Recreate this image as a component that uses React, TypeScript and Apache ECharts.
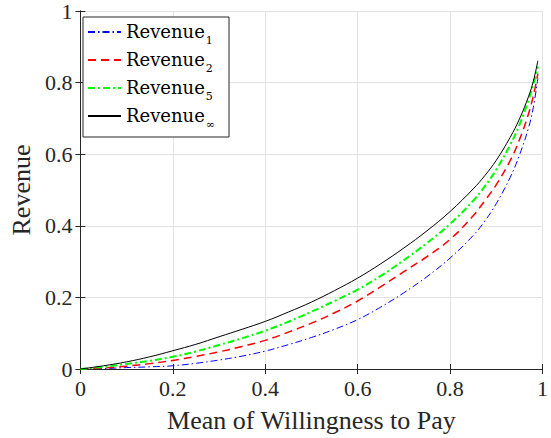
import React, { useEffect, useRef } from "react";
import * as echarts from "echarts";

const X = [0, 0.05, 0.1, 0.15, 0.2, 0.25, 0.3, 0.35, 0.4, 0.45, 0.5, 0.55, 0.6, 0.65, 0.7, 0.75, 0.8, 0.85, 0.875, 0.9, 0.93, 0.95, 0.97, 0.98, 0.99];
const REV_1 = [0, 0.001, 0.004, 0.006, 0.009, 0.016, 0.025, 0.036, 0.05, 0.068, 0.088, 0.111, 0.138, 0.173, 0.213, 0.258, 0.31, 0.373, 0.413, 0.462, 0.535, 0.597, 0.675, 0.73, 0.812];
const REV_2 = [0, 0.003, 0.008, 0.015, 0.024, 0.035, 0.048, 0.063, 0.08, 0.103, 0.128, 0.157, 0.19, 0.23, 0.272, 0.314, 0.362, 0.428, 0.47, 0.515, 0.582, 0.64, 0.714, 0.762, 0.825];
const REV_5 = [0, 0.006, 0.014, 0.023, 0.034, 0.049, 0.067, 0.086, 0.107, 0.132, 0.16, 0.19, 0.222, 0.26, 0.304, 0.352, 0.405, 0.47, 0.51, 0.557, 0.626, 0.682, 0.752, 0.795, 0.845];
const REV_INF = [0, 0.009, 0.02, 0.034, 0.051, 0.069, 0.09, 0.111, 0.133, 0.159, 0.187, 0.219, 0.254, 0.294, 0.338, 0.386, 0.44, 0.503, 0.54, 0.583, 0.647, 0.698, 0.762, 0.803, 0.861];

const SERIES_NAMES = ["Revenue_1", "Revenue_2", "Revenue_5", "Revenue_∞"];
const SUBSCRIPTS = ["1", "2", "5", "∞"];
const X_TITLE = "Mean of Willingness to Pay";
const Y_TITLE = "Revenue";

const SERIF = '"Liberation Serif", "Times New Roman", Times, serif';
const AX = "#262626";

export default function App() {
  const ref = useRef<HTMLDivElement>(null);
  useEffect(() => {
    if (!ref.current) return;
    const chart = echarts.init(ref.current, null, { renderer: "svg" });
    const zip = (ys: number[]) => X.map((x, i) => [x, ys[i]]);
    const fmt = (v: number) => String(Math.round(v * 10) / 10);
    const baseX = {
      type: "value" as const,
      min: 0,
      max: 1,
      interval: 0.2,
    };
    const styles = [
      { data: REV_1, color: "#0000ff", width: 1, type: [7, 3, 1.5, 3] },
      { data: REV_2, color: "#ff0000", width: 1.5, type: [8, 5] },
      { data: REV_5, color: "#00ff00", width: 2, type: [7, 3, 2, 3] },
      { data: REV_INF, color: "#000000", width: 1, type: "solid" },
    ];
    const labelStyle = { fontFamily: SERIF, fontSize: 22, color: AX, margin: 8, formatter: fmt };
    const nameStyle = { fontFamily: SERIF, fontSize: 26, color: AX };
    chart.setOption({
      animation: false,
      backgroundColor: "#ffffff",
      textStyle: { fontFamily: SERIF },
      grid: { left: 75, right: 2, top: 10, bottom: 69 },
      legend: {
        orient: "vertical",
        left: 83,
        top: 17,
        itemWidth: 33,
        itemHeight: 14,
        itemGap: 4,
        padding: [5, 14, 7, 4],
        backgroundColor: "#ffffff",
        borderColor: AX,
        borderWidth: 1,
        borderRadius: 0,
        itemStyle: { opacity: 0 },
        data: SERIES_NAMES,
        formatter: (name: string) => {
          const i = SERIES_NAMES.indexOf(name);
          return `{r|Revenue}{s|${SUBSCRIPTS[i]}}`;
        },
        textStyle: {
          color: "#000",
          rich: {
            r: { fontFamily: "DejaVu Serif", fontSize: 18, lineHeight: 20, verticalAlign: "top", color: "#000" },
            s: { fontFamily: "DejaVu Serif", fontSize: 11, lineHeight: 11, padding: [13, 0, 0, 1], verticalAlign: "top", color: "#000" },
          },
        },
      },
      xAxis: [
        {
          ...baseX,
          position: "bottom",
          axisLine: { show: true, lineStyle: { color: AX, width: 1 } },
          axisTick: { show: true, inside: true, length: 5, lineStyle: { color: AX } },
          axisLabel: labelStyle,
          splitLine: { show: true, lineStyle: { color: "#e3e3e3", width: 1 } },
          name: X_TITLE,
          nameLocation: "middle",
          nameGap: 38,
          nameTextStyle: nameStyle,
        },
        {
          ...baseX,
          position: "top",
          axisLine: { show: true, lineStyle: { color: AX, width: 1 } },
          axisTick: { show: true, inside: true, length: 5, lineStyle: { color: AX } },
          axisLabel: { show: false },
          splitLine: { show: false },
        },
      ],
      yAxis: [
        {
          ...baseX,
          position: "left",
          axisLine: { show: true, lineStyle: { color: AX, width: 1 } },
          axisTick: { show: true, inside: true, length: 5, lineStyle: { color: AX } },
          axisLabel: labelStyle,
          splitLine: { show: true, lineStyle: { color: "#e3e3e3", width: 1 } },
          name: Y_TITLE,
          nameLocation: "middle",
          nameGap: 42,
          nameTextStyle: nameStyle,
        },
        {
          ...baseX,
          position: "right",
          axisLine: { show: true, lineStyle: { color: AX, width: 1 } },
          axisTick: { show: true, inside: true, length: 5, lineStyle: { color: AX } },
          axisLabel: { show: false },
          splitLine: { show: false },
        },
      ],
      series: styles.map((s, i) => ({
        name: SERIES_NAMES[i],
        type: "line",
        xAxisIndex: 0,
        yAxisIndex: 0,
        data: zip(s.data),
        showSymbol: false,
        symbol: "none",
        smooth: 0.4,
        color: s.color,
        lineStyle: { color: s.color, width: s.width, type: s.type },
      })),
    });
    return () => chart.dispose();
  }, []);
  return <div ref={ref} style={{ position: "fixed", left: 0, top: 0, width: 551, height: 438 }} />;
}
